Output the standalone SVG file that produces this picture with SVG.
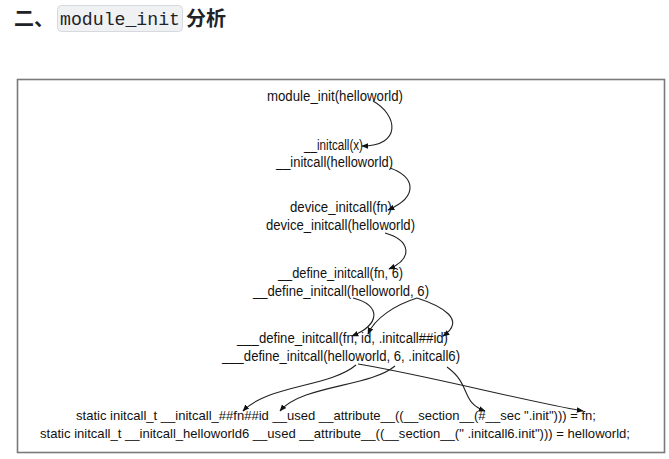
<svg xmlns="http://www.w3.org/2000/svg" width="669" height="459" viewBox="0 0 669 459">
<defs>
<style>
.t{font-family:"Liberation Sans",Arial,sans-serif;font-size:14px;fill:#111;}
.s{font-size:13.5px;}
.c{fill:none;stroke:#222;stroke-width:1.1;marker-end:url(#ah);}
.h{font-family:"Noto Sans CJK SC",sans-serif;font-weight:bold;font-size:20px;fill:#1f2328;}
.m{font-family:"Liberation Mono","DejaVu Sans Mono",monospace;font-size:18px;fill:#1f2328;}
</style>
<marker id="ah" viewBox="0 0 10 10" refX="9" refY="5" markerWidth="7" markerHeight="7" orient="auto" markerUnits="userSpaceOnUse">
<path d="M0,1 L10,5 L0,9 Z" fill="#111"/>
</marker>
</defs>
<rect width="669" height="459" fill="#fff"/>
<g id="heading">
<text class="h" x="14" y="26">二、</text>
<rect x="57.5" y="5.5" width="125" height="26" rx="4" fill="#eff1f3" stroke="#d6dade"/>
<text class="m" x="60" y="25" textLength="120" lengthAdjust="spacingAndGlyphs">module_init</text>
<text class="h" x="186" y="26">分析</text>
</g>
<g id="frame">
<rect x="17.5" y="79.5" width="647" height="373" fill="#fff" stroke="#7a7a7a" stroke-width="1.6"/>
</g>
<g id="n1"><text class="t" x="267" y="101" textLength="136" lengthAdjust="spacingAndGlyphs">module_init(helloworld)</text></g>
<g id="n2"><text class="t" x="304" y="150" textLength="59" lengthAdjust="spacingAndGlyphs">__initcall(x)</text></g>
<g id="n3"><text class="t" x="276" y="167" textLength="117" lengthAdjust="spacingAndGlyphs">__initcall(helloworld)</text></g>
<g id="n4"><text class="t" x="290" y="212" textLength="102" lengthAdjust="spacingAndGlyphs">device_initcall(fn)</text></g>
<g id="n5"><text class="t" x="266" y="230" textLength="149" lengthAdjust="spacingAndGlyphs">device_initcall(helloworld)</text></g>
<g id="n6"><text class="t" x="278" y="278" textLength="125" lengthAdjust="spacingAndGlyphs">__define_initcall(fn, 6)</text></g>
<g id="n7"><text class="t" x="253" y="296" textLength="176" lengthAdjust="spacingAndGlyphs">__define_initcall(helloworld, 6)</text></g>
<g id="n8"><text class="t" x="237" y="343" textLength="211" lengthAdjust="spacingAndGlyphs">___define_initcall(fn, id, .initcall##id)</text></g>
<g id="n9"><text class="t" x="222" y="361" textLength="238" lengthAdjust="spacingAndGlyphs">___define_initcall(helloworld, 6, .initcall6)</text></g>
<g id="n10"><text class="t s" x="76" y="420" textLength="520" lengthAdjust="spacingAndGlyphs">static initcall_t __initcall_##fn##id __used __attribute__((__section__(#__sec ".init"))) = fn;</text></g>
<g id="n11"><text class="t s" x="40" y="438" textLength="590" lengthAdjust="spacingAndGlyphs">static initcall_t __initcall_helloworld6 __used __attribute__((__section__(" .initcall6.init"))) = helloworld;</text></g>
<g id="connectors">
<path class="c" d="M373,101 C398,115 402,146 362,146"/>
<path class="c" d="M390,168 C414,176 420,196 388,210"/>
<path class="c" d="M385,233 C410,240 414,258 389,269"/>
<path class="c" d="M353,298 C382,305 380,325 352,336"/>
<path class="c" d="M417,298 C395,305 375,318 368,334"/>
<path class="c" d="M417,298 C442,306 467,320 443,336"/>
<path class="c" d="M356,365 C330,387 268,385 243,411"/>
<path class="c" d="M395,366 C370,387 302,385 280,411"/>
<path class="c" d="M358,364 C430,376 520,400 583,411"/>
<path class="c" d="M447,367 C472,385 460,402 485,411"/>
</g>
</svg>
